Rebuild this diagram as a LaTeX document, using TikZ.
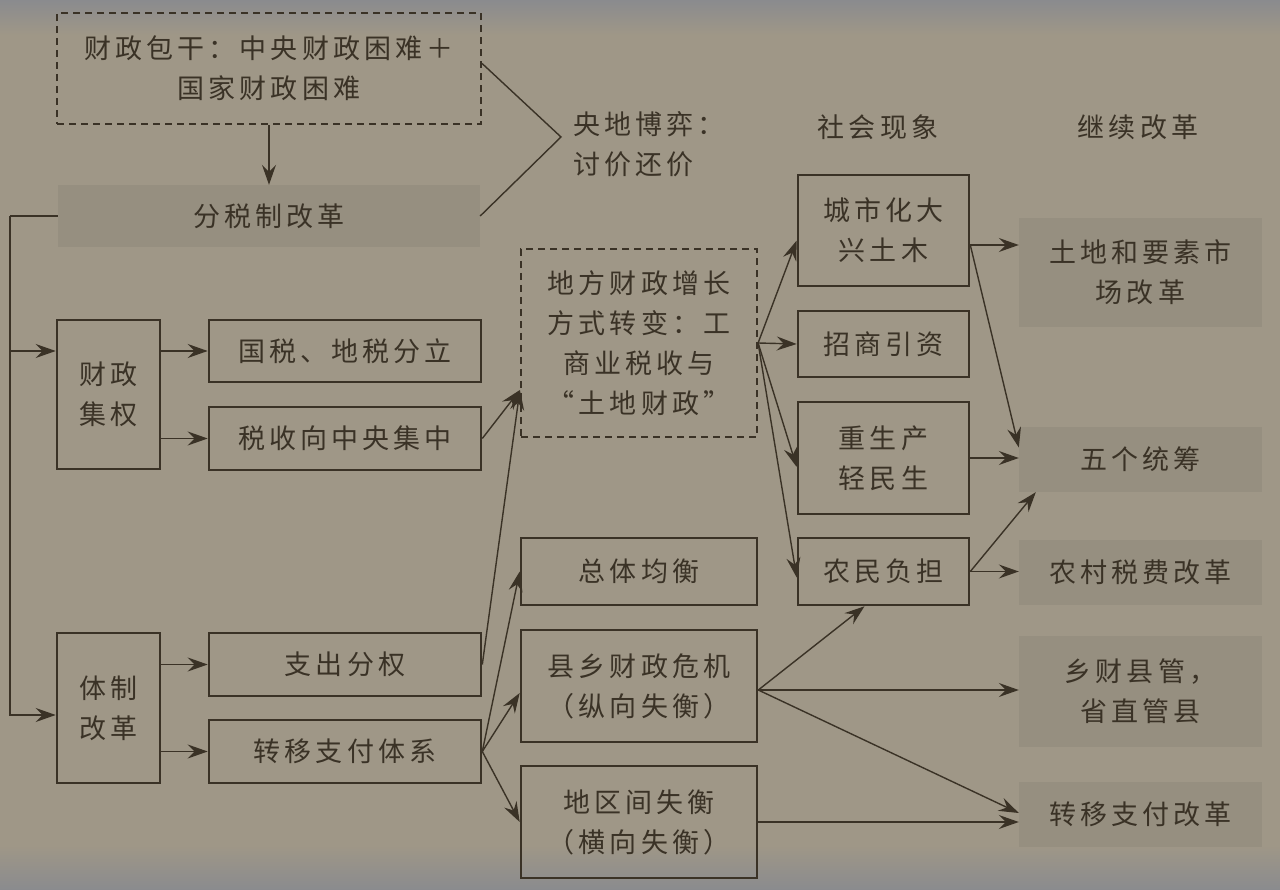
\documentclass[tikz,border=0pt]{standalone}
\usepackage{fontspec}
\newfontfamily\cjk[LetterSpace=15]{Noto Sans CJK SC}
\usetikzlibrary{arrows.meta}
\definecolor{bg}{RGB}{159,151,135}
\definecolor{shadebox}{RGB}{150,143,128}
\definecolor{ink}{RGB}{58,50,38}
\definecolor{edgegray}{RGB}{138,139,142}
\tikzset{
  lbl/.style={font=\cjk\fontsize{27}{40}\selectfont, text=ink, inner sep=0pt, align=center},
  box/.style={lbl, draw=ink, line width=2.6pt, rectangle},
  dbox/.style={lbl, draw=ink, line width=2.2pt, dash pattern=on 7pt off 5pt, rectangle},
  sbox/.style={lbl, fill=shadebox, rectangle},
  ln/.style={draw=ink, line width=1.4pt},
  arr/.style={draw=ink, line width=1.4pt, -{Stealth[length=20pt,width=14pt,inset=7pt]}},
}
\begin{document}
\begin{tikzpicture}[x=1pt,y=-1pt]
\useasboundingbox (0,0) rectangle (1280,890);
\fill[bg] (0,0) rectangle (1280,890);
\shade[top color=edgegray, bottom color=bg] (0,0) rectangle (1280,35);
\shade[top color=bg, bottom color=edgegray] (0,845) rectangle (1280,890);

% column 1
\node[dbox, minimum width=424pt, minimum height=111pt] (top) at (269,68.5) {财政包干：中央财政困难＋\\国家财政困难};
\node[sbox, minimum width=422pt, minimum height=62pt] (fsz) at (269,216) {分税制改革};
\node[lbl, anchor=west, align=left] (game) at (573,144) {央地博弈：\\讨价还价};
\node[lbl] (h1) at (878,127) {社会现象};
\node[lbl] (h2) at (1138,127) {继续改革};

\node[box, minimum width=103pt, minimum height=149pt] (cjq) at (108.5,394.5) {财政\\集权};
\node[box, minimum width=272pt, minimum height=62pt] (gs) at (345,351) {国税、地税分立};
\node[box, minimum width=272pt, minimum height=63pt] (ss) at (345,438.5) {税收向中央集中};
\node[box, minimum width=103pt, minimum height=150pt] (tz) at (108.5,708) {体制\\改革};
\node[box, minimum width=272pt, minimum height=63pt] (zc) at (345,664.5) {支出分权};
\node[box, minimum width=272pt, minimum height=63pt] (zy) at (345,751.5) {转移支付体系};

% column 3
\node[dbox, minimum width=236pt, minimum height=188pt] (df) at (639,343) {地方财政增长\\方式转变：工\\商业税收与\\“土地财政”};
\node[box, minimum width=236pt, minimum height=67pt] (zt) at (639,571.5) {总体均衡};
\node[box, minimum width=236pt, minimum height=112pt] (xx) at (639,686) {县乡财政危机\\（纵向失衡）};
\node[box, minimum width=236pt, minimum height=112pt] (dq) at (639,822) {地区间失衡\\（横向失衡）};

% column 4
\node[box, minimum width=171pt, minimum height=111pt] (cs) at (883.5,230.5) {城市化大\\兴土木};
\node[box, minimum width=171pt, minimum height=66pt] (zs) at (883.5,344) {招商引资};
\node[box, minimum width=171pt, minimum height=112pt] (zsc) at (883.5,458) {重生产\\轻民生};
\node[box, minimum width=171pt, minimum height=67pt] (nm) at (883.5,571.5) {农民负担};

% column 5
\node[sbox, minimum width=243pt, minimum height=109pt] (td) at (1140.5,272.5) {土地和要素市\\场改革};
\node[sbox, minimum width=243pt, minimum height=65pt] (wg) at (1140.5,459.5) {五个统筹};
\node[sbox, minimum width=243pt, minimum height=65pt] (nc) at (1140.5,572.5) {农村税费改革};
\node[sbox, minimum width=243pt, minimum height=111pt] (xc) at (1140.5,691.5) {乡财县管，\\省直管县};
\node[sbox, minimum width=243pt, minimum height=65pt] (zg) at (1140.5,814.5) {转移支付改革};

% connectors
\coordinate (sp) at (10,216);
\draw[ln] (fsz.west) -- (sp);
\draw[arr] (sp) |- ([yshift=-7pt]tz.west);
\draw[arr] (sp |- gs) -- (cjq.west |- gs);
\draw[arr] (cjq.east |- gs) -- (gs.west);
\draw[arr] (cjq.east |- ss) -- (ss.west);
\draw[arr] (tz.east |- zc) -- (zc.west);
\draw[arr] (tz.east |- zy) -- (zy.west);
\draw[arr] (top.south) -- (fsz.north);
\coordinate (apex) at (561,137);
\draw[ln] ([yshift=5pt]top.east) -- (apex) -- (fsz.east);

\coordinate (dfin) at ([yshift=-47pt]df.west);
\draw[arr] (ss.east) -- (dfin);
\draw[arr] (zc.east) -- (dfin);
\draw[arr] (zy.east) -- (zt.west);
\draw[arr] (zy.east) -- ([yshift=-7pt]xx.west);
\draw[arr] (zy.east) -- (dq.west);

\draw[arr] (df.east) -- ([yshift=-10pt]cs.west);
\draw[arr] (df.east) -- (zs.west);
\draw[arr] (df.east) -- ([yshift=-9pt]zsc.west);
\draw[arr] (df.east) -- ([yshift=-6pt]nm.west);

\coordinate (c1) at ([yshift=-14.5pt]cs.east);
\draw[arr] (c1) -- (c1 -| td.west);
\draw[arr] (c1) -- ([yshift=12pt]wg.west);
\draw[arr] (zsc.east) -- (zsc.east -| wg.west);
\draw[arr] (nm.east) -- (nm.east -| nc.west);
\draw[arr] (nm.east) -- ([xshift=17pt]wg.south west);

\coordinate (c2) at ([yshift=-4pt]xx.east);
\draw[arr] (c2) -- ([xshift=-19pt]nm.south);
\draw[arr] (c2) -- (c2 -| xc.west);
\draw[arr] (c2) -- ([yshift=1.5pt]zg.west);
\draw[arr] (dq.east) -- (dq.east -| zg.west);
\end{tikzpicture}
\end{document}
